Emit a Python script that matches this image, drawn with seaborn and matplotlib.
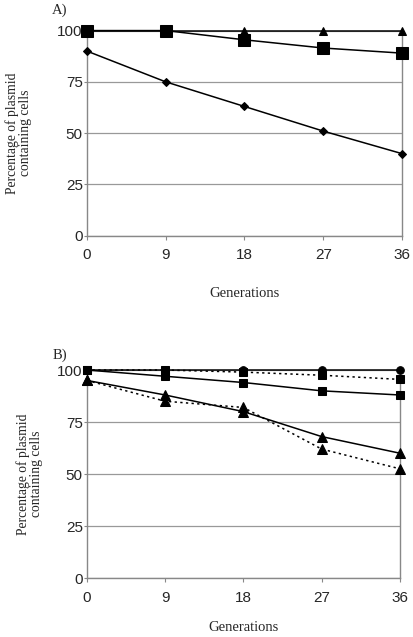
import pandas as pd
import matplotlib
matplotlib.use("Agg")
import matplotlib.pyplot as plt
import seaborn as sns

generations = [0, 9, 18, 27, 36]

# panel A
a_triangle = [100, 100, 100, 100, 100]
a_square = [100, 100, 95.5, 91.5, 89]
a_diamond = [90, 75, 63, 51, 40]

# panel B
b_circle = [100, 100, 100, 100, 100]
b_square_dot = [100, 100, 99, 97.5, 95.5]
b_square = [100, 97, 94, 90, 88]
b_triangle = [95, 88, 80, 68, 60]
b_triangle_dot = [95, 85, 82, 62, 52.5]

sns.set_style("white")
plt.rcParams['font.family'] = ['Liberation Sans', 'DejaVu Sans']

fig = plt.figure(figsize=(4.14, 6.37), dpi=100)
ax_a = fig.add_axes([0.210, 0.630, 0.761, 0.322])
ax_b = fig.add_axes([0.210, 0.0926, 0.756, 0.3265])

dotted = (0, (1.5, 2.2))


def draw_series(ax, y, marker, ms, ls="-"):
    df = pd.DataFrame({"gen": generations, "pct": y})
    sns.lineplot(data=df, x="gen", y="pct", ax=ax, color="black", marker=marker,
                 markersize=ms, linestyle=ls, linewidth=1.1, markeredgecolor="black",
                 clip_on=False, zorder=5)


draw_series(ax_a, a_triangle, "^", 5.5)
draw_series(ax_a, a_diamond, "D", 4)
draw_series(ax_a, a_square, "s", 8)

draw_series(ax_b, b_circle, "o", 5.5)
draw_series(ax_b, b_square_dot, "s", 5.5, dotted)
draw_series(ax_b, b_square, "s", 5.5)
draw_series(ax_b, b_triangle, "^", 6.5)
draw_series(ax_b, b_triangle_dot, "^", 6.5, dotted)

for ax, tag, tag_y, xpad, ypad in [(ax_a, "A)", 1.10, 18, 18), (ax_b, "B)", 1.07, 12, 10)]:
    ax.set_xlim(0, 36)
    ax.set_ylim(0, 100)
    ax.set_xticks(generations)
    ax.set_yticks([0, 25, 50, 75, 100])
    ax.tick_params(axis="x", labelsize=11, length=3, color="#888888",
                   direction="out", bottom=True, pad=6)
    ax.tick_params(axis="y", labelsize=11, length=2, color="#888888",
                   direction="out", left=True, pad=1)
    ax.yaxis.grid(True, color="#999999", linewidth=0.9)
    ax.xaxis.grid(False)
    ax.set_axisbelow(True)
    for side in ["left", "bottom", "right"]:
        ax.spines[side].set_color("#888888")
        ax.spines[side].set_linewidth(1.0)
    ax.spines["top"].set_visible(False)
    ax.set_xlabel("Generations", family="Liberation Serif", fontsize=10.5, labelpad=xpad)
    ax.set_ylabel("Percentage of plasmid\ncontaining cells", family="Liberation Serif",
                  fontsize=9.8, labelpad=ypad, linespacing=1.0)
    ax.text(-0.11, tag_y, tag, transform=ax.transAxes, family="Liberation Serif",
            fontsize=10.5, ha="left", va="center")

fig.savefig("out.png", dpi=100)
